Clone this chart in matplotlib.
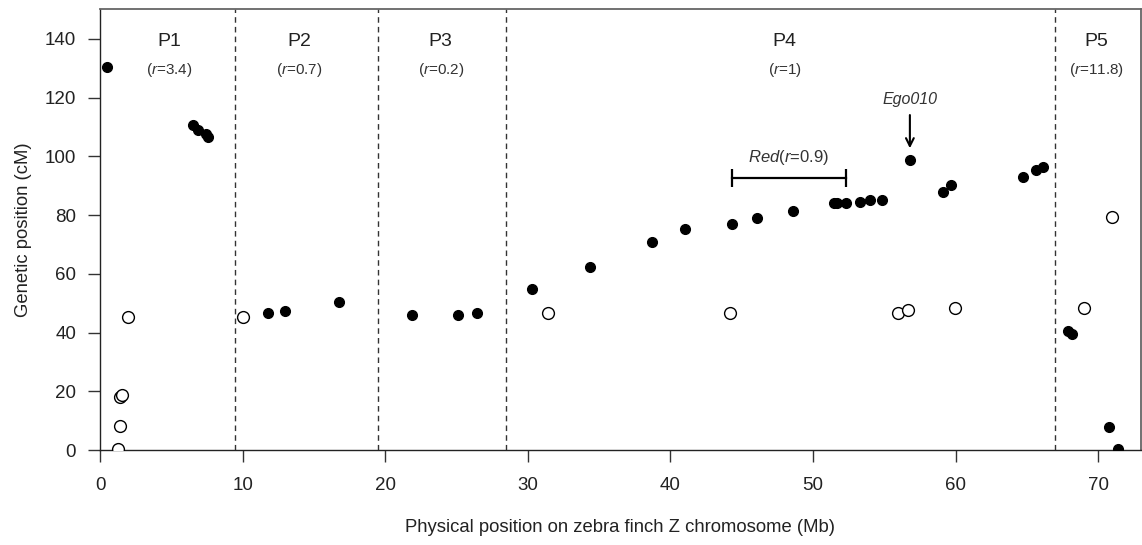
import matplotlib.pyplot as plt

plt.rcParams['font.family'] = ['Liberation Sans', 'DejaVu Sans']
plt.rcParams['mathtext.fontset'] = 'custom'
plt.rcParams['mathtext.rm'] = 'Liberation Sans'
plt.rcParams['mathtext.it'] = 'Liberation Sans:italic'

# mapped markers (physical Mb, genetic cM)
filled_mb = [0.5, 6.5, 6.9, 7.4, 7.6,
             11.75, 13.0, 16.75,
             21.85, 25.1, 26.45,
             30.3, 34.35, 38.7, 41.05, 44.3, 46.05, 48.6, 51.45, 51.7, 52.3,
             53.3, 54.0, 54.85, 56.8, 59.15, 59.7, 64.7, 65.65, 66.15,
             67.9, 68.15, 70.75, 71.4]
filled_cm = [130.5, 110.5, 109.0, 107.5, 106.7,
             46.7, 47.5, 50.5,
             46.1, 46.1, 46.8,
             54.9, 62.2, 70.7, 75.3, 76.9, 79.1, 81.4, 84.0, 84.0, 84.2,
             84.6, 85.2, 85.2, 98.8, 87.9, 90.3, 93.0, 95.4, 96.4,
             40.4, 39.6, 7.9, 0.2]

# unmapped / discordant markers
open_mb = [1.25, 1.4, 1.4, 1.55, 1.98, 10.05, 31.4, 44.2, 56.0, 56.7, 59.95, 69.0, 71.0]
open_cm = [0.4, 8.1, 18.2, 18.6, 45.3, 45.3, 46.8, 46.8, 46.8, 47.6, 48.4, 48.4, 79.2]

# partition boundaries and labels
boundaries = [9.5, 19.5, 28.45, 67.0]
part_names = ['P1', 'P2', 'P3', 'P4', 'P5']
part_x = [4.85, 13.95, 23.9, 48.0, 69.9]
part_r = ['3.4', '0.7', '0.2', '1', '11.8']

red_start, red_end, red_cm = 44.3, 52.3, 92.6
ego_mb, ego_cm = 56.8, 98.8

fig = plt.figure(figsize=(11.42, 5.45), dpi=100)
ax = fig.add_axes([0.0876, 0.1743, 0.9114, 0.8083])

for b in boundaries:
    ax.axvline(b, color='#333333', lw=1.0, ls=(0, (4, 3)), zorder=1)

ax.plot(filled_mb, filled_cm, 'o', color='black', markersize=7, zorder=3)
ax.plot(open_mb, open_cm, 'o', mfc='white', mec='black', mew=1.0,
        markersize=8.5, zorder=3)

for name, x, r in zip(part_names, part_x, part_r):
    ax.text(x, 139, name, ha='center', va='center', fontsize=14, color='#222222')
    ax.text(x, 129.4, '($\\mathit{r}$=' + r + ')', ha='center', va='center',
            fontsize=11, color='#333333')

# Red interval
ax.plot([red_start, red_end], [red_cm, red_cm], color='black', lw=1.6)
ax.vlines([red_start, red_end], red_cm - 3, red_cm + 3, color='black', lw=1.6)
ax.text((red_start + red_end) / 2, 99.6, '$\\mathit{Red}$($\\mathit{r}$=0.9)',
        ha='center', va='center', fontsize=12, color='#333333')

# Ego010 arrow
ax.annotate('', xy=(ego_mb, ego_cm + 3), xytext=(ego_mb, 115),
            arrowprops=dict(arrowstyle='->', color='black', lw=1.5,
                            mutation_scale=14))
ax.text(ego_mb, 119.5, 'Ego010', ha='center', va='center', fontsize=11.5,
        style='italic', color='#333333')

ax.set_xlim(0, 73)
ax.set_ylim(0, 150)
ax.set_xticks(range(0, 71, 10))
ax.set_yticks(range(0, 141, 20))
ax.tick_params(axis='both', labelsize=13.5, length=8.6, width=1.0, color='#333333',
               labelcolor='#222222')
ax.tick_params(axis='x', pad=11)
ax.tick_params(axis='y', pad=8.6)

for side in ['top', 'right']:
    ax.spines[side].set_color('#666666')
    ax.spines[side].set_linewidth(1.3)
for side in ['left', 'bottom']:
    ax.spines[side].set_color('#222222')
    ax.spines[side].set_linewidth(1.0)

ax.set_xlabel('Physical position on zebra finch Z chromosome (Mb)', fontsize=13.3,
              color='#222222', labelpad=18)
ax.set_ylabel('Genetic position (cM)', fontsize=13.3, color='#222222', labelpad=9)

plt.savefig('out.png', dpi=100)
